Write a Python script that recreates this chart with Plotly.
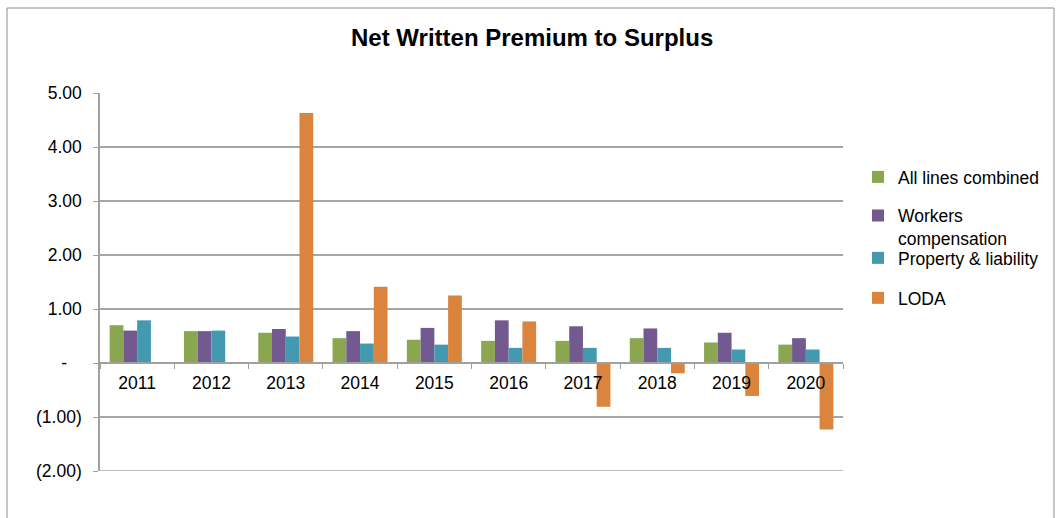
import plotly.graph_objects as go

years = ["2011", "2012", "2013", "2014", "2015", "2016", "2017", "2018", "2019", "2020"]
all_lines = [0.70, 0.59, 0.56, 0.46, 0.43, 0.41, 0.41, 0.46, 0.38, 0.34]
workers_comp = [0.60, 0.59, 0.63, 0.59, 0.65, 0.79, 0.68, 0.64, 0.56, 0.46]
property_liab = [0.79, 0.60, 0.49, 0.36, 0.34, 0.28, 0.28, 0.28, 0.25, 0.25]
loda = [None, None, 4.63, 1.41, 1.25, 0.77, -0.81, -0.19, -0.61, -1.23]

y_tickvals = [5, 4, 3, 2, 1, 0, -1, -2]
y_ticktext = ["5.00", "4.00", "3.00", "2.00", "1.00", "-\u00a0\u00a0\u00a0", "(1.00)", "(2.00)"]
y_min, y_max = -2, 5

series = [
    ("All lines combined", all_lines, "#8aa64f"),
    ("Workers<br>compensation", workers_comp, "#72598f"),
    ("Property & liability", property_liab, "#4299b0"),
    ("LODA", loda, "#db843d"),
]

# plot area in pixels: x 100..843, y 93..471
PX_L, PX_R, PX_T, PX_B = 100, 843, 93, 471
W_PLOT, H_PLOT = PX_R - PX_L, PX_B - PX_T

def px_x(px):
    return (px - PX_L) / W_PLOT

def px_y(py):
    return (PX_B - py) / H_PLOT

font = "Liberation Sans, Arial, sans-serif"
grid_color = "#a6a6a6"
legend_names = ["legend", "legend2", "legend3", "legend4"]
legend_centers = [177, 227, 258, 298]

fig = go.Figure()
for i, (name, vals, color) in enumerate(series):
    fig.add_trace(go.Bar(
        x=years, y=vals, name=name, legend=legend_names[i],
        marker=dict(color=color, line=dict(width=0)),
    ))

legend_layout = {}
for i, ln in enumerate(legend_names):
    legend_layout[ln] = dict(
        x=px_x(858), y=px_y(legend_centers[i]), xanchor="left", yanchor="middle",
        font=dict(family=font, size=17.5, color="#000000"),
        bgcolor="rgba(0,0,0,0)", itemwidth=30, valign="top",
    )

fig.update_layout(
    width=1060, height=518,
    margin=dict(l=PX_L, r=1060 - PX_R, t=PX_T, b=518 - PX_B),
    paper_bgcolor="white", plot_bgcolor="white",
    barmode="group", bargap=0.26, bargroupgap=0,
    font=dict(family=font, size=17.5, color="#000000"),
    title=dict(text="<b>Net Written Premium to Surplus</b>", x=0.502, xanchor="center",
               y=0.927, yanchor="middle", font=dict(family=font, size=24, color="#000000")),
    showlegend=True,
    xaxis=dict(anchor="free", position=(0 - y_min) / (y_max - y_min), showgrid=False,
               showline=True, linecolor="#a0a0a0", linewidth=1.5, ticks="outside",
               tickson="boundaries", ticklen=5, tickcolor="#a0a0a0",
               tickfont=dict(family=font, size=17.5), ticklabelstandoff=4),
    yaxis=dict(range=[y_min, y_max], tickvals=y_tickvals, ticktext=y_ticktext, showgrid=True,
               gridcolor=grid_color, gridwidth=1.5, showline=True, linecolor="#a0a0a0",
               linewidth=1.5, ticks="outside", ticklen=5, tickcolor="#a0a0a0",
               zeroline=False, tickfont=dict(family=font, size=17.5), ticklabelstandoff=8),
    shapes=[
        # gridline along the bottom edge of the plot area
        dict(type="line", xref="paper", yref="y", x0=0, x1=1, y0=y_min, y1=y_min,
             line=dict(color=grid_color, width=1.5), layer="below"),
        # outer chart frame
        dict(type="rect", xref="paper", yref="paper",
             x0=px_x(7), x1=px_x(1054), y0=px_y(560), y1=px_y(8),
             line=dict(color="#8c8c8c", width=1), fillcolor="rgba(0,0,0,0)",
             layer="below"),
    ],
    **legend_layout,
)

fig.write_html("out.html")
